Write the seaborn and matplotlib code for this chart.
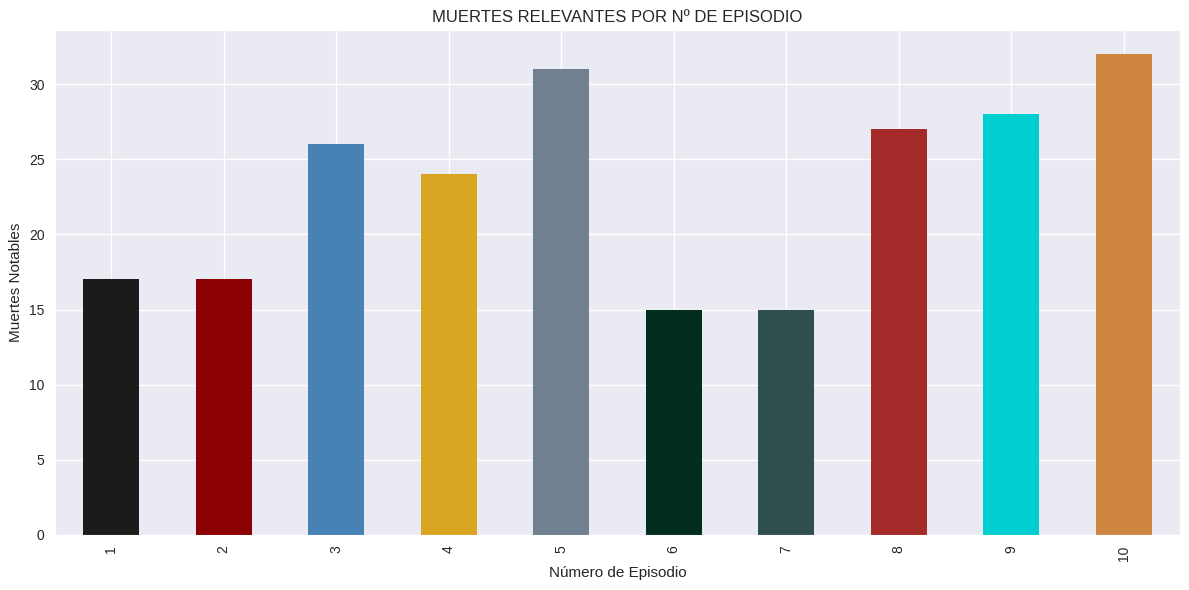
import pandas as pd
import seaborn as sns
import matplotlib.pyplot as plt

episodios = [1, 2, 3, 4, 5, 6, 7, 8, 9, 10]
muertes = [17, 17, 26, 24, 31, 15, 15, 27, 28, 32]
colores = ['#1b1b1b', '#8b0000', '#4682b4', '#daa520', '#708090',
           '#032e1f', '#2f4f4f', '#a52a2a', '#00ced1', '#cd853f']

df = pd.DataFrame({'episodio': episodios, 'muertes': muertes})

sns.set_style('darkgrid')
plt.rcParams['font.family'] = ['Liberation Sans', 'DejaVu Sans']
plt.rcParams['axes.titlesize'] = 12
plt.rcParams['axes.labelsize'] = 11
plt.rcParams['xtick.labelsize'] = 10
plt.rcParams['ytick.labelsize'] = 10

fig, ax = plt.subplots(figsize=(11.89, 5.9), dpi=100)
sns.barplot(data=df, x='episodio', y='muertes', hue='episodio',
            palette=colores, legend=False, width=0.5, saturation=1,
            linewidth=0, ax=ax)
ax.grid(True, axis='both', color='white', linewidth=1)
ax.set_axisbelow(True)
ax.tick_params(axis='x', rotation=90, pad=4)
ax.tick_params(axis='y', pad=4)
ax.set_title('MUERTES RELEVANTES POR Nº DE EPISODIO', pad=6)
ax.set_xlabel('Número de Episodio')
ax.set_ylabel('Muertes Notables')
ax.set_xlim(-0.5, 9.5)
ax.set_ylim(0, 33.6)
fig.subplots_adjust(left=55/1189, right=1180/1189, top=1-30/590, bottom=1-535/590)
plt.savefig('out.png', dpi=100)
